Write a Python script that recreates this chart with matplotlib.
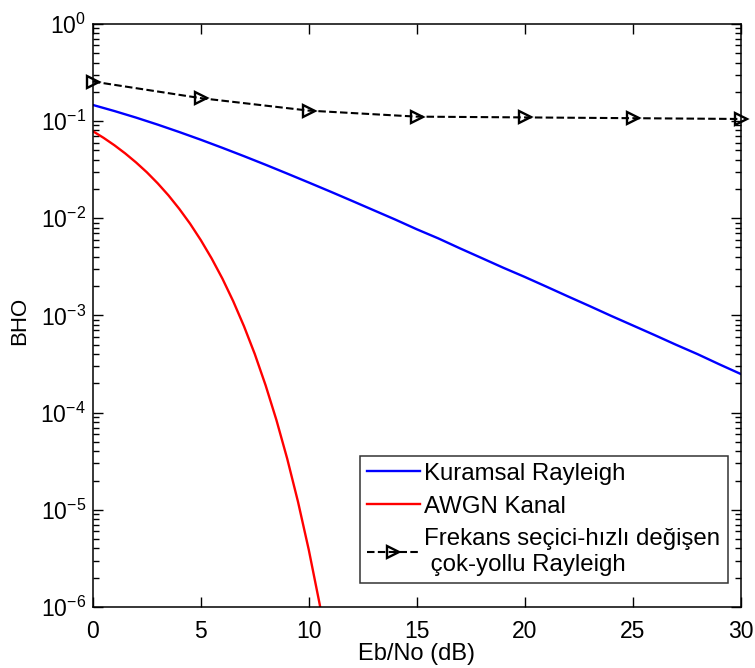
import matplotlib.pyplot as plt
import numpy as np
from matplotlib.ticker import LogLocator, NullFormatter

plt.rcParams['font.family'] = ['Liberation Sans', 'DejaVu Sans']
plt.rcParams['mathtext.fontset'] = 'custom'
plt.rcParams['mathtext.rm'] = 'Liberation Sans'
plt.rcParams['mathtext.it'] = 'Liberation Sans:italic'
plt.rcParams['mathtext.default'] = 'regular'

# Kuramsal Rayleigh (theoretical BPSK over flat Rayleigh)
snr_ray = np.arange(0, 31)
ber_ray = [0.1464, 0.1267, 0.1085, 0.0919, 0.0771, 0.0642, 0.0530, 0.0435,
           0.0355, 0.0288, 0.0233, 0.0188, 0.0151, 0.0121, 0.0097, 0.0077,
           0.0062, 0.0049, 0.0039, 0.0031, 0.00249, 0.00198, 0.00157,
           0.00125, 0.00099, 0.00079, 0.00063, 0.00050, 0.00040, 0.000315,
           0.00025]

# AWGN kanal
snr_awgn = np.arange(0, 11.5, 0.5)
ber_awgn = [0.0786, 0.0671, 0.0563, 0.0464, 0.0375, 0.0297, 0.0229, 0.0172,
            0.0125, 0.0088, 0.00595, 0.00386, 0.00239, 0.0014, 7.73e-4,
            4.0e-4, 1.91e-4, 8.4e-5, 3.36e-5, 1.21e-5, 3.87e-6, 1.08e-6,
            2.6e-7]

# Frekans secici - hizli degisen cok-yollu Rayleigh (simulation)
snr_sim = [0, 5, 10, 15, 20, 25, 30]
ber_sim = [0.255, 0.172, 0.128, 0.111, 0.109, 0.107, 0.105]

fig = plt.figure(figsize=(7.55, 6.68), dpi=100)
ax = fig.add_axes([0.123, 0.0913, 0.858, 0.873])

ax.semilogy(snr_ray, ber_ray, color='#0000ff', lw=1.7, label='Kuramsal Rayleigh')
ax.semilogy(snr_awgn, ber_awgn, color='#ff0000', lw=1.7, label='AWGN Kanal')
ax.semilogy(snr_sim, ber_sim, 'k--', lw=1.5, marker='>', markersize=9,
            markerfacecolor='none', markeredgewidth=1.7, dashes=(3.6, 1.6),
            clip_on=False,
            label='Frekans seçici-hızlı değişen\n çok-yollu Rayleigh')

ax.set_xlim(0, 30)
ax.set_ylim(1e-6, 1)
ax.set_xticks([0, 5, 10, 15, 20, 25, 30])
ax.yaxis.set_major_locator(LogLocator(base=10, numticks=10))
ax.yaxis.set_minor_locator(LogLocator(base=10, subs=np.arange(2, 10), numticks=20))
ax.yaxis.set_minor_formatter(NullFormatter())

ax.tick_params(which='both', direction='in', top=True, right=True, width=1)
ax.tick_params(which='major', length=7)
ax.tick_params(which='minor', length=4)
ax.tick_params(axis='x', labelsize=16.5, pad=9)
ax.tick_params(axis='y', labelsize=16.5, pad=5)
for sp in ax.spines.values():
    sp.set_linewidth(1.1)

ax.set_xlabel('Eb/No (dB)', fontsize=17)
ax.set_ylabel('BHO', fontsize=16)
ax.xaxis.set_label_coords(0.5, -0.061)
ax.yaxis.set_label_coords(-0.097, 0.49)

leg = ax.legend(loc='lower right', bbox_to_anchor=(0.98, 0.041), fontsize=17.3,
                frameon=True, fancybox=False, edgecolor='black',
                handlelength=2.2, handletextpad=0.2, borderpad=0.3,
                labelspacing=0.45, borderaxespad=0)
leg.get_frame().set_linewidth(1.1)

fig.savefig('out.png', dpi=100)
